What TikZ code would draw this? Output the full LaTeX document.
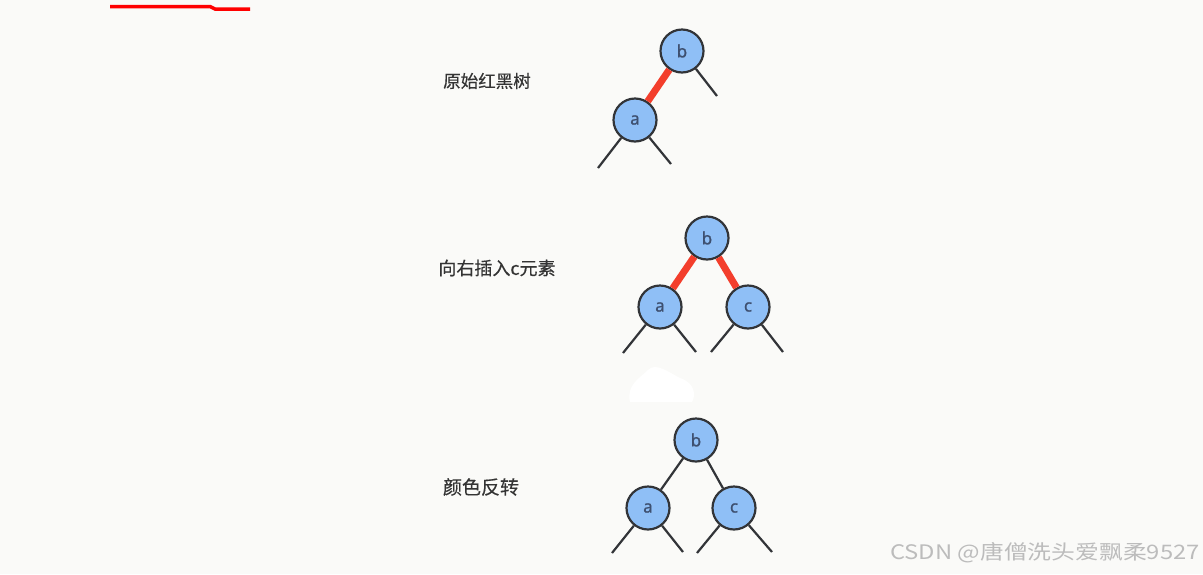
\documentclass[tikz,border=0pt]{standalone}
\usepackage{fontspec}
\usepackage{graphicx}
\setmainfont{Noto Sans CJK SC}
\newfontfamily\captionfont[FakeBold=0.4]{Noto Sans CJK SC}
\newfontfamily\letterfont[FakeBold=1.2]{Noto Sans}
\usetikzlibrary{positioning}
\definecolor{paper}{RGB}{250,250,248}
\definecolor{nodeblue}{RGB}{143,191,246}
\definecolor{rimgray}{RGB}{50,52,56}
\definecolor{letterblue}{RGB}{62,80,112}
\definecolor{linkred}{RGB}{243,62,44}
\definecolor{capgray}{RGB}{52,52,52}
\definecolor{markgray}{RGB}{188,188,188}
\tikzset{
	rbnode/.style={circle, draw=rimgray, fill=nodeblue, line width=2.2pt, minimum size=43pt, inner sep=0pt, text=letterblue, font=\letterfont\fontsize{17}{17}\selectfont},
	blacklink/.style={draw=rimgray, line width=2.2pt},
	redlink/.style={draw=linkred, line width=7pt},
	caption/.style={text=capgray, inner sep=0pt, font=\captionfont\fontsize{17.5}{20}\selectfont}
}
\begin{document}
\begin{tikzpicture}[x=1pt, y=-1pt]
		\fill[paper] (0,0) rectangle (1203,574);
		\useasboundingbox (0,0) rectangle (1203,574);
		\draw[red, line width=3.5pt] (110,6.5) -- (210,6.5) -- (215,9) -- (250,9);
		\fill[white] (630,402) .. controls (626,385) and (640,378) .. (648,370) .. controls (656,362) and (668,372) .. (680,378) .. controls (695,383) and (696,395) .. (692,402) -- cycle;

		% original tree
		\node[caption] (cap1) at (487,81) {原始红黑树};
		\node[rbnode] (b1) at (682,51) {b};
		\node[rbnode] (a1) at (635,120) {a};
		\coordinate (b1r) at (717,96);
		\coordinate (a1l) at (598,168);
		\coordinate (a1r) at (671,164);
		\draw[redlink] (b1) -- (a1);
		\draw[blacklink] (b1) -- (b1r);
		\draw[blacklink] (a1) -- (a1l);
		\draw[blacklink] (a1) -- (a1r);

		% insert c on the right
		\node[caption, font=\captionfont\fontsize{18}{20}\selectfont] (cap2) at (497,268) {向右插入c元素};
		\node[rbnode] (b2) at (707,238) {b};
		\node[rbnode] (a2) at (660,307) {a};
		\node[rbnode] (c2) at (748,307) {c};
		\coordinate (a2l) at (623,353);
		\coordinate (a2r) at (696,352);
		\coordinate (c2l) at (711,352);
		\coordinate (c2r) at (783,352);
		\draw[redlink] (b2) -- (a2);
		\draw[redlink] (b2) -- (c2);
		\draw[blacklink] (a2) -- (a2l);
		\draw[blacklink] (a2) -- (a2r);
		\draw[blacklink] (c2) -- (c2l);
		\draw[blacklink] (c2) -- (c2r);

		% colour flip
		\node[caption, font=\captionfont\fontsize{19}{20}\selectfont] (cap3) at (481,487) {颜色反转};
		\node[rbnode] (b3) at (696,440) {b};
		\node[rbnode] (a3) at (648,508) {a};
		\node[rbnode] (c3) at (734,508) {c};
		\coordinate (a3l) at (612,553);
		\coordinate (a3r) at (683,552);
		\coordinate (c3l) at (697,553);
		\coordinate (c3r) at (772,552);
		\draw[blacklink] (b3) -- (a3);
		\draw[blacklink] (b3) -- (c3);
		\draw[blacklink] (a3) -- (a3l);
		\draw[blacklink] (a3) -- (a3r);
		\draw[blacklink] (c3) -- (c3l);
		\draw[blacklink] (c3) -- (c3r);

		\node[text=markgray, anchor=east, inner sep=0pt, font=\fontsize{20}{20}\selectfont] (mark) at (1200,553) {\scalebox{1.19}[1]{CSDN @唐僧洗头爱飘柔9527}};
	\end{tikzpicture}
\end{document}
